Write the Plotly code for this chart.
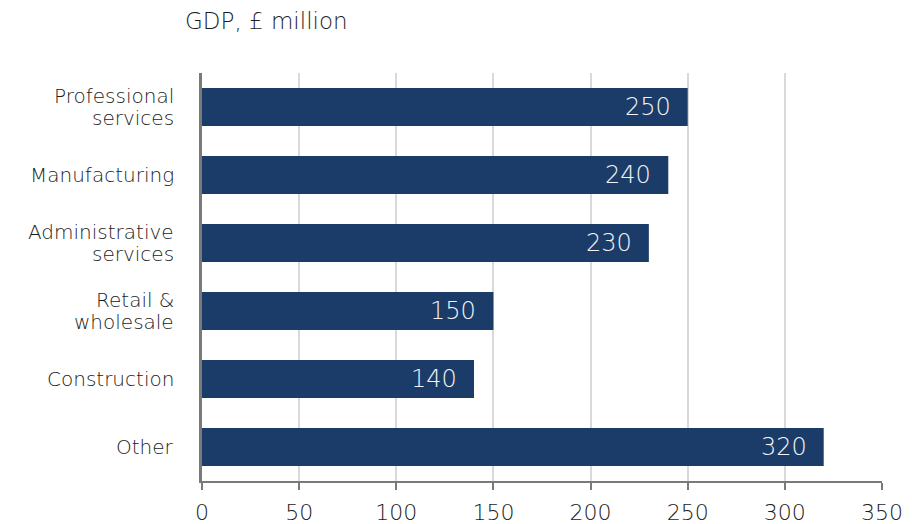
import plotly.graph_objects as go

# Sector GDP, £ million
sectors = [
    "Professional<br>services",
    "Manufacturing",
    "Administrative<br>services",
    "Retail &<br>wholesale",
    "Construction",
    "Other",
]
gdp = [250, 240, 230, 150, 140, 320]
x_ticks = [0, 50, 100, 150, 200, 250, 300, 350]

BAR = "#1b3c69"
TEXT = "#1c1c1c"
FONT = "DejaVu Sans"
W = 200
LINE_GAP = 22  # px between lines of a wrapped category label

fig = go.Figure(
    go.Bar(
        x=gdp,
        y=sectors,
        orientation="h",
        marker=dict(color=BAR, line=dict(width=0)),
        hoverinfo="skip",
    )
)

# value labels inside the bar ends
for s, v in zip(sectors, gdp):
    fig.add_annotation(
        x=v, y=s, xref="x", yref="y",
        text=str(v), showarrow=False,
        xanchor="right", yanchor="middle", xshift=-15,
        font=dict(family=FONT, size=24, color="#f2f4f7", weight=W),
    )

# category labels, wrapped lines set with a tight line gap
for s in sectors:
    lines = s.split("<br>")
    n = len(lines)
    for i, line in enumerate(lines):
        fig.add_annotation(
            x=0, y=s, xref="paper", yref="y",
            text=line, showarrow=False,
            xanchor="right", yanchor="middle",
            xshift=-26, yshift=((n - 1) / 2 - i) * LINE_GAP,
            font=dict(family=FONT, size=20, color=TEXT, weight=W),
        )

fig.update_layout(
    width=912,
    height=524,
    margin=dict(l=202, r=30, t=73, b=43),
    paper_bgcolor="white",
    plot_bgcolor="white",
    bargap=0.44,
    showlegend=False,
    font=dict(family=FONT, color=TEXT, size=20),
    title=dict(
        text="GDP, £ million",
        x=185 / 912, xanchor="left", xref="container",
        y=1 - 21 / 524, yanchor="middle", yref="container",
        font=dict(family=FONT, size=23, color=TEXT, weight=W),
    ),
    xaxis=dict(
        range=[0, 350],
        tickvals=x_ticks,
        automargin=False,
        showgrid=True,
        gridcolor="#d9d9d9",
        gridwidth=2,
        zeroline=False,
        showline=True,
        linecolor="#7a7a7a",
        linewidth=2,
        ticks="outside",
        ticklen=7,
        tickwidth=2,
        tickcolor="#7a7a7a",
        ticklabelstandoff=4,
        tickfont=dict(family=FONT, size=22, color=TEXT, weight=W),
    ),
    yaxis=dict(
        categoryorder="array",
        categoryarray=sectors[::-1],
        automargin=False,
        showgrid=False,
        zeroline=False,
        showline=True,
        linecolor="#7a7a7a",
        linewidth=3,
        showticklabels=False,
        ticks="",
    ),
)

fig.write_html("out.html")
